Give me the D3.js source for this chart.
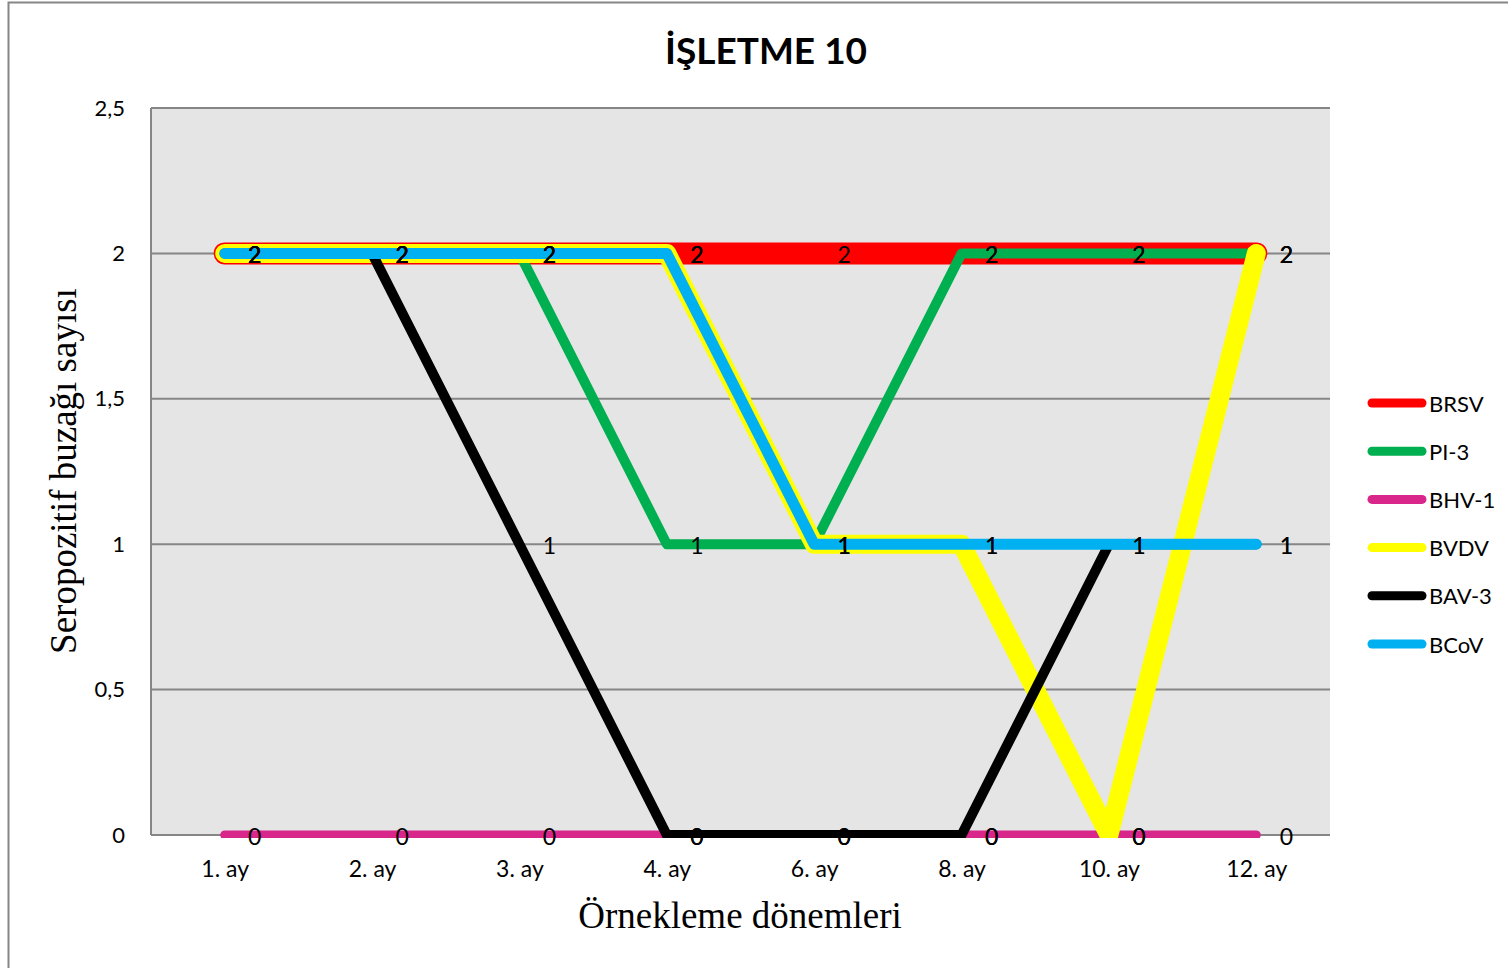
<!DOCTYPE html>
<html>
<head>
<meta charset="utf-8">
<script src="https://cdn.jsdelivr.net/npm/d3@7/dist/d3.min.js"></script>
<style>
  html, body { margin: 0; padding: 0; background: #fff; }
  svg { display: block; }
</style>
</head>
<body>
<svg id="chart" width="1508" height="968"></svg>
<script>
// Sampling periods (months)
const categories = ["1. ay", "2. ay", "3. ay", "4. ay", "6. ay", "8. ay", "10. ay", "12. ay"];

// Seropositive calf counts per virus
const seriesNames = ["BRSV", "PI-3", "BHV-1", "BVDV", "BAV-3", "BCoV"];
const brsv = [2, 2, 2, 2, 2, 2, 2, 2];
const pi3  = [2, 2, 2, 1, 1, 2, 2, 2];
const bhv1 = [0, 0, 0, 0, 0, 0, 0, 0];
const bvdv = [2, 2, 2, 2, 1, 1, 0, 2];
const bav3 = [2, 2, 1, 0, 0, 0, 1, 1];
const bcov = [2, 2, 2, 2, 1, 1, 1, 1];

const yTicks = [0, 0.5, 1, 1.5, 2, 2.5];

const seriesColors = ["#ff0000", "#00b050", "#d8268a", "#ffff00", "#000000", "#00b0f0"];
const seriesWidths = [22, 10, 9, 19, 10, 11];

const series = seriesNames.map((name, i) => ({
  name,
  values: [brsv, pi3, bhv1, bvdv, bav3, bcov][i],
  color: seriesColors[i],
  width: seriesWidths[i]
}));

const svg = d3.select("#chart");
const fmt = v => String(v).replace(".", ",");
const sans = "Lato, 'Open Sans', sans-serif";
const serif = "'Liberation Serif', 'Times New Roman', serif";

// Outer chart frame
svg.append("rect")
  .attr("x", 8.5).attr("y", 2.5)
  .attr("width", 1520).attr("height", 990)
  .attr("fill", "#fff").attr("stroke", "#868686").attr("stroke-width", 2);

const plot = { left: 151, right: 1330, top: 108, bottom: 835 };

const x = d3.scalePoint()
  .domain(categories)
  .range([plot.left, plot.right])
  .padding(0.5);

const y = d3.scaleLinear()
  .domain([0, 2.5])
  .range([plot.bottom, plot.top]);

// Plot background
svg.append("rect")
  .attr("x", plot.left).attr("y", plot.top)
  .attr("width", plot.right - plot.left).attr("height", plot.bottom - plot.top)
  .attr("fill", "#e5e5e5");

// Horizontal gridlines
svg.append("g")
  .selectAll("line")
  .data(yTicks.filter(t => t > 0))
  .join("line")
  .attr("x1", plot.left).attr("x2", plot.right)
  .attr("y1", d => y(d)).attr("y2", d => y(d))
  .attr("stroke", "#868686").attr("stroke-width", 2);

// Vertical axis line
svg.append("line")
  .attr("x1", plot.left).attr("x2", plot.left)
  .attr("y1", plot.top).attr("y2", plot.bottom)
  .attr("stroke", "#868686").attr("stroke-width", 2);

// Y axis tick labels
const yAxis = d3.axisLeft(y).tickValues(yTicks).tickFormat(fmt).tickSize(0).tickPadding(26);
const yg = svg.append("g").attr("transform", `translate(${plot.left},0)`).call(yAxis);
yg.select(".domain").remove();
yg.selectAll("text")
  .attr("font-family", sans)
  .attr("font-size", 22).attr("fill", "#000");

// X axis
const xAxis = d3.axisBottom(x).tickSize(0).tickPadding(26);
const xg = svg.append("g").attr("transform", `translate(0,${plot.bottom})`).call(xAxis);
xg.select(".domain")
  .attr("stroke", "#868686").attr("stroke-width", 2)
  .attr("d", `M${plot.left},0H${plot.right}`);
xg.selectAll("text")
  .attr("font-family", sans)
  .attr("font-size", 23).attr("fill", "#000");

// Clip for series lines (slightly below the x axis)
svg.append("clipPath").attr("id", "plotClip")
  .append("rect")
  .attr("x", 0).attr("y", 0)
  .attr("width", 1508).attr("height", plot.bottom + 3);

const line = d3.line()
  .x((d, i) => x(categories[i]))
  .y(d => y(d));

const lines = svg.append("g").attr("clip-path", "url(#plotClip)");
lines.selectAll("path")
  .data(series)
  .join("path")
  .attr("d", d => line(d.values))
  .attr("fill", "none")
  .attr("stroke", d => d.color)
  .attr("stroke-width", d => d.width)
  .attr("stroke-linecap", "round")
  .attr("stroke-linejoin", "round");

// Data labels (right of each point)
const labels = svg.append("g");
series.forEach(s => {
  labels.selectAll(null)
    .data(s.values)
    .join("text")
    .attr("x", (d, i) => x(categories[i]) + 30)
    .attr("y", d => y(d) + 1)
    .attr("text-anchor", "middle")
    .attr("dominant-baseline", "central")
    .attr("font-family", sans)
    .attr("font-size", 23)
    .attr("fill", "#000")
    .text(d => fmt(d));
});

// Title
svg.append("text")
  .attr("x", 766).attr("y", 64)
  .attr("text-anchor", "middle")
  .attr("font-family", sans)
  .attr("font-weight", "bold")
  .attr("font-size", 37)
  .attr("fill", "#000")
  .text("İŞLETME 10");

// Axis titles
svg.append("text")
  .attr("transform", "translate(76,471) rotate(-90)")
  .attr("text-anchor", "middle")
  .attr("font-family", serif)
  .attr("font-size", 37)
  .attr("fill", "#000")
  .text("Seropozitif buzağı sayısı");

svg.append("text")
  .attr("x", 740).attr("y", 928)
  .attr("text-anchor", "middle")
  .attr("font-family", serif)
  .attr("font-size", 37)
  .attr("fill", "#000")
  .text("Örnekleme dönemleri");

// Legend
const legend = svg.append("g");
const legendRows = legend.selectAll("g")
  .data(series)
  .join("g")
  .attr("transform", (d, i) => `translate(1368,${403 + i * 48.2})`);
legendRows.append("line")
  .attr("x1", 4).attr("x2", 54)
  .attr("y1", 0).attr("y2", 0)
  .attr("stroke", d => d.color)
  .attr("stroke-width", 9)
  .attr("stroke-linecap", "round");
legendRows.append("text")
  .attr("x", 61).attr("y", 0)
  .attr("dominant-baseline", "central")
  .attr("font-family", sans)
  .attr("font-size", 22)
  .attr("fill", "#000")
  .text(d => d.name);
</script>
</body>
</html>
